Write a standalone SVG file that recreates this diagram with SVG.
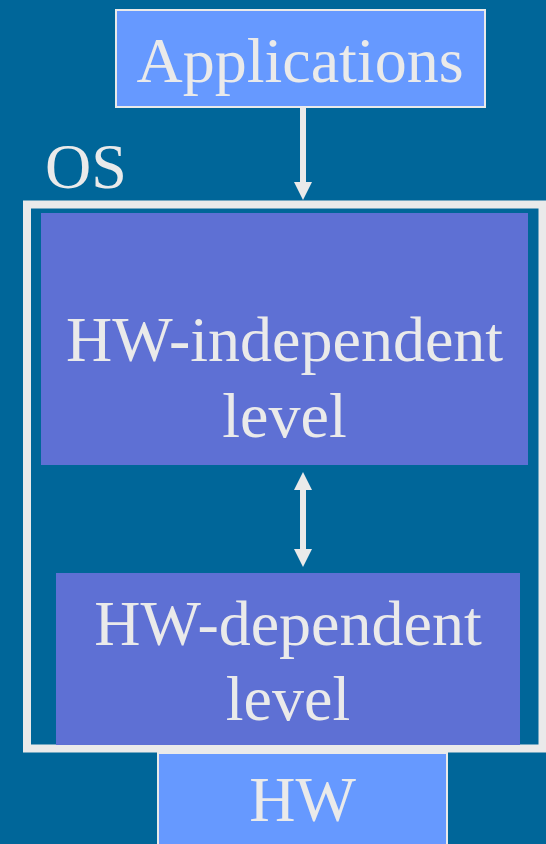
<svg xmlns="http://www.w3.org/2000/svg" width="546" height="844" viewBox="0 0 546 844">
<defs>
<style>
.t{font-family:"Liberation Serif","Times New Roman",serif;font-size:64px;fill:#EAEAEA;text-anchor:middle}
.lb{fill:#6699FF;stroke:#EAEAEA;stroke-width:2}
.db{fill:#5E70D4}
.c{stroke:#EAEAEA;stroke-width:6;fill:none}
</style>
<marker id="ah" markerWidth="18" markerHeight="18" viewBox="0 0 18 18" refX="0" refY="9" orient="auto-start-reverse" markerUnits="userSpaceOnUse" overflow="visible">
<path d="M0,0 L18,9 L0,18 Z" fill="#EAEAEA"/>
</marker>
</defs>
<rect width="546" height="844" fill="#006699"/>
<g id="os">
<rect x="27" y="204.5" width="515.5" height="544" fill="none" stroke="#EAEAEA" stroke-width="8"/>
<text class="t" x="86" y="188">OS</text>
</g>
<g id="applications">
<rect class="lb" x="116" y="10" width="369" height="97"/>
<text class="t" x="300" y="82">Applications</text>
</g>
<g id="hw-independent">
<rect class="db" x="41" y="213" width="487" height="252"/>
<text class="t" x="284.5" y="361">HW-independent</text>
<text class="t" x="284.5" y="437">level</text>
</g>
<g id="hw-dependent">
<rect class="db" x="56" y="573" width="464" height="172"/>
<text class="t" x="288" y="645">HW-dependent</text>
<text class="t" x="288" y="720">level</text>
</g>
<g id="hw">
<rect class="lb" x="158" y="753" width="289" height="100"/>
<text class="t" x="302.5" y="821">HW</text>
</g>
<g id="connectors">
<line class="c" x1="303" y1="108" x2="303" y2="182" marker-end="url(#ah)"/>
<line class="c" x1="303" y1="490" x2="303" y2="549" marker-start="url(#ah)" marker-end="url(#ah)"/>
</g>
</svg>
